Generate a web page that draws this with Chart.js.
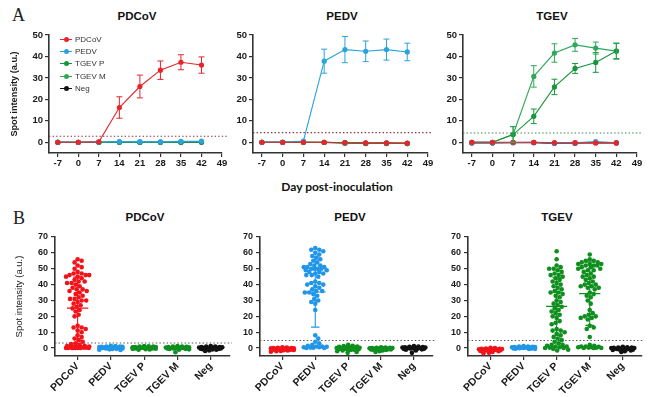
<!DOCTYPE html>
<html>
<head>
<meta charset="utf-8">
<script src="https://cdn.jsdelivr.net/npm/chart.js@4.4.1/dist/chart.umd.min.js"></script>
<style>
  body { margin: 0; width: 650px; height: 397px; background: #fff; overflow: hidden; position: relative;
         font-family: 'Liberation Sans', Arial, sans-serif; }
  canvas { position: absolute; }
  .ttl { position: absolute; font-weight: bold; font-size: 11.5px; line-height: 11.5px; color: #111;
         transform: translate(-50%, -50%); white-space: nowrap; }
  .panel { position: absolute; font-family: 'Liberation Serif', 'DejaVu Serif', serif; font-size: 18px;
           line-height: 18px; color: #222; }
  .xlab { position: absolute; font-family: Lato, 'Liberation Sans', sans-serif; font-weight: bold; font-size: 12px;
          color: #111; transform: translate(-50%, -50%); white-space: nowrap; }
  #legend { position: absolute; left: 60px; top: 33px; font-size: 8px; color: #333; }
  .row { height: 12.3px; display: flex; align-items: center; }
  .mk { position: relative; width: 12px; height: 12px; margin-right: 3px; }
  .mk .ln { position: absolute; left: 0; right: 0; top: 5.5px; height: 1px; }
  .mk .dt { position: absolute; left: 3.5px; top: 3.5px; width: 5px; height: 5px; border-radius: 50%; }
</style>
</head>
<body>
<div class="panel" style="left:12px;top:6px">A</div>
<div class="panel" style="left:13px;top:209px">B</div>

<div class="ttl" style="left:137px;top:17px">PDCoV</div>
<div class="ttl" style="left:342px;top:17px">PEDV</div>
<div class="ttl" style="left:552px;top:17px">TGEV</div>
<div class="ttl" style="left:145px;top:218px">PDCoV</div>
<div class="ttl" style="left:350px;top:218px">PEDV</div>
<div class="ttl" style="left:557px;top:218px">TGEV</div>
<div class="xlab" style="left:337px;top:186px">Day post-inoculation</div>

<canvas id="a1" width="230" height="150" style="left:0;top:25px"></canvas>
<canvas id="a2" width="213" height="150" style="left:223px;top:25px"></canvas>
<canvas id="a3" width="212" height="150" style="left:433px;top:25px"></canvas>
<canvas id="b1" width="238" height="170" style="left:0;top:227px"></canvas>
<canvas id="b2" width="211" height="170" style="left:230px;top:227px"></canvas>
<canvas id="b3" width="212" height="170" style="left:438px;top:227px"></canvas>
<div id="legend"></div>

<script>
// --- data ---
const days = [-7, 0, 7, 14, 21, 28, 35, 42];
const dayTicks = [-7, 0, 7, 14, 21, 28, 35, 42, 49];
const intensityTicksA = [0, 10, 20, 30, 40, 50];
const intensityTicksB = [0, 10, 20, 30, 40, 50, 60, 70];
const seriesNames = ['PDCoV', 'PEDV', 'TGEV P', 'TGEV M', 'Neg'];
const lineColors = ['#e8252b', '#2aa3de', '#17963c', '#2fa85a', '#111111'];
const dotColors = ['#f2131a', '#2196e8', '#0f8f1e', '#0f8f1e', '#111111'];

// A: kinetics (mean, sd) per day
const a1PDCoV = [0, 0, 0.2, 16.2, 26.0, 33.6, 37.3, 36.0];
const a1PDCoVsd = [0, 0, 0, 5.0, 5.3, 4.3, 3.5, 3.8];
const a1PEDV = [0, 0, 0.1, 0.3, 0.3, 0.2, 0.4, 0.5];
const a1TGEVP = [0, 0, 0, 0.1, 0.1, 0, 0.1, 0.2];
const a1TGEVM = [0, 0, 0, 0.1, 0, 0.1, 0.1, 0.1];
const a1Neg = [0, 0, 0, 0, 0, 0, 0, 0];

const a2PDCoV = [0, 0, 0, 0, -0.2, -0.3, -0.3, -0.4];
const a2PEDV = [0, 0, 0.6, 37.8, 43.2, 42.4, 43.2, 42.1];
const a2PEDVsd = [0, 0, 0, 5.6, 6.1, 4.8, 4.9, 4.1];
const a2TGEVP = [0, 0, 0, -0.1, -0.4, -0.6, -0.6, -0.6];
const a2TGEVM = [0, 0, 0, -0.1, -0.3, -0.5, -0.5, -0.6];
const a2Neg = [0, 0, 0, 0, -0.2, -0.4, -0.4, -0.5];

const a3PDCoV = [0, 0, 0, 0, -0.2, -0.2, -0.3, -0.3];
const a3PEDV = [-0.2, -0.2, -0.1, 0, -0.4, -0.3, 0.3, -0.2];
const a3TGEVP = [0, 0, 3.6, 12.1, 25.8, 34.4, 37.2, 42.5];
const a3TGEVPsd = [0, 0, 3.7, 3.4, 3.6, 2.3, 4.6, 3.5];
const a3TGEVM = [0, 0, 3.6, 30.7, 41.6, 45.4, 43.9, 42.5];
const a3TGEVMsd = [0, 0, 3.7, 5.0, 4.3, 3.0, 2.8, 3.8];
const a3Neg = [-0.3, -0.3, -0.2, -0.2, -0.5, -0.4, -0.2, -0.3];

const cutoffsA = [2.8, 4.5, 4.3];
const cutoffsB = [3.2, 4.8, 4.8];

// B: individual samples per antigen
const b1PDCoV = [56, 55, 54, 52, 51, 50, 48, 47, 47, 46, 46, 46, 45, 45, 44, 43, 42, 42, 41, 41, 40, 39, 38, 37, 37,
  36, 36, 35, 34, 33, 32, 31, 31, 30, 30, 29, 28, 27, 26, 25, 24, 23, 21, 20, 14, 13, 13, 12, 11, 10, 8, 7, 6, 5, 4,
  3, 2.5, 2, 1.5, 1.2, 1, 1, 0.8, 0.6, 0.5, 0.4, 0.3, 0.2, 0.1, 0, 0, 0, 0, 0, 0, 0];
const b1PEDV = [1.5, 1.2, 1, 1, 0.8, 0.8, 0.6, 0.5, 0.5, 0.4, 0.3, 0.3, 0.2, 0.2, 0.1, 0, 0, 0, -0.2, -0.3, -0.5, -0.6, -0.8, -1, -1.2];
const b1TGEVP = [1.3, 1.1, 1, 0.9, 0.7, 0.6, 0.5, 0.4, 0.3, 0.2, 0.2, 0.1, 0, 0, 0, -0.1, -0.2, -0.3, -0.4, -0.5, -0.7, -0.9, -1];
const b1TGEVM = [1.2, 1, 0.9, 0.8, 0.6, 0.5, 0.4, 0.3, 0.2, 0.1, 0, 0, 0, -0.1, -0.2, -0.3, -0.5, -0.6, -0.8, -1, -2.6];
const b1Neg = [1.2, 1, 0.9, 0.7, 0.6, 0.5, 0.4, 0.3, 0.2, 0.1, 0, 0, 0, -0.2, -0.3, -0.4, -0.5, -0.7, -0.9, -1.1, -1.5, -1.8];
const b1Means = [25.2, 0.3, 0.1, 0, -0.1];
const b1Sds = [19.5, 0.6, 0.6, 0.8, 0.7];

const b2PDCoV = [0.5, 0.3, 0.2, 0, 0, -0.1, -0.2, -0.3, -0.4, -0.5, -0.5, -0.6, -0.7, -0.8, -0.8, -0.9, -1, -1, -1.2, -1.3, -1.5, -1.8, -2, -2.3];
const b2PEDV = [63, 62, 62, 61, 60, 59, 58, 57, 56, 55, 54, 53, 52, 52, 51, 51, 51, 50, 50, 50, 50, 49, 49, 48, 48, 47,
  47, 46, 46, 45, 42, 41, 41, 40, 40, 39, 38, 37, 36, 36, 35, 35, 34, 33, 31, 30, 29, 28, 24, 8, 6, 4, 3, 2, 1.5, 1, 1,
  0.8, 0.5, 0.5, 0.3, 0.2, 0, 0];
const b2TGEVP = [2, 1.5, 1.2, 1, 0.8, 0.6, 0.5, 0.3, 0.2, 0, 0, -0.1, -0.2, -0.3, -0.4, -0.5, -0.6, -0.8, -1, -1.2, -1.5, -2, -2.5, -3];
const b2TGEVM = [0.5, 0.3, 0.2, 0.1, 0, 0, -0.1, -0.2, -0.3, -0.3, -0.4, -0.5, -0.5, -0.6, -0.7, -0.8, -0.9, -1, -1.2, -1.5, -2, -2.5];
const b2Neg = [1.2, 1, 0.8, 0.6, 0.5, 0.4, 0.3, 0.2, 0.1, 0, 0, -0.1, -0.2, -0.3, -0.5, -0.6, -0.8, -1, -1.5, -3];
const b2Means = [-0.6, 35.3, -0.3, -0.5, -0.2];
const b2Sds = [0.7, 22.1, 1.1, 0.7, 0.9];

const b3PDCoV = [0.2, 0, -0.3, -0.4, -0.5, -0.6, -0.7, -0.8, -0.9, -1, -1, -1.1, -1.2, -1.3, -1.5, -1.8, -2, -2.5, -3, -3.2];
const b3PEDV = [1.2, 1, 0.9, 0.8, 0.7, 0.6, 0.5, 0.4, 0.3, 0.3, 0.2, 0.1, 0, 0, -0.1, -0.2, -0.3, -0.4, -0.5, -0.6];
const b3TGEVP = [61, 56, 52, 51, 50, 50, 49, 48, 47, 46, 46, 45, 44, 43, 42, 41, 40, 39, 38, 37, 36, 35, 35, 34, 33,
  32, 30, 29, 28, 27, 26, 25, 24, 23, 22, 21, 20, 19, 17, 16, 15, 12, 11, 11, 10, 9, 8, 7, 6, 5, 4, 3, 2, 2, 1.5, 1, 1,
  0.5, 0.3, 0, 0, -0.5, -1, -1.5];
const b3TGEVM = [59, 56, 55, 55, 54, 54, 53, 53, 53, 52, 52, 52, 51, 51, 50, 50, 49, 49, 48, 47, 46, 45, 45, 44, 43,
  42, 41, 40, 40, 39, 39, 38, 38, 37, 35, 34, 33, 32, 30, 28, 24, 22, 21, 20, 20, 19, 19, 18, 14, 13, 12, 7, 2, 1.5, 1,
  1, 0.8, 0.5, 0.5, 0.3, 0.2, 0, 0, 0];
const b3Neg = [0.8, 0.5, 0.4, 0.3, 0.2, 0, 0, -0.2, -0.3, -0.4, -0.5, -0.6, -0.7, -0.8, -1, -1.2, -1.5, -2, -2.5];
const b3Means = [-1.1, 0.3, 26.3, 34.3, -0.5];
const b3Sds = [0.9, 0.5, 18.3, 20.0, 0.8];

Chart.defaults.font.family = "'Liberation Sans', Arial, sans-serif";
Chart.defaults.color = '#222';

// dotted detection threshold
const cutoffLine = {
  id: 'cutoffLine',
  beforeDatasetsDraw(chart) {
    const o = chart.options.plugins.cutoffLine;
    const y = chart.scales.y.getPixelForValue(o.value);
    const ctx = chart.ctx;
    ctx.save();
    ctx.strokeStyle = o.color;
    ctx.lineWidth = 1.1;
    ctx.setLineDash([1.4, 2.2]);
    ctx.beginPath();
    ctx.moveTo(chart.chartArea.left, y);
    ctx.lineTo(chart.chartArea.right + o.extra, y);
    ctx.stroke();
    ctx.restore();
  }
};

// vertical sd bars for the kinetics
const errorBars = {
  id: 'errorBars',
  afterDatasetsDraw(chart) {
    const ctx = chart.ctx, ys = chart.scales.y;
    chart.data.datasets.forEach((ds, di) => {
      if (!ds.errors) return;
      const meta = chart.getDatasetMeta(di);
      ctx.save();
      ctx.strokeStyle = ds.borderColor;
      ctx.lineWidth = 1;
      meta.data.forEach((pt, i) => {
        const e = ds.errors[i];
        if (!e) return;
        const v = ds.data[i].y;
        const t = ys.getPixelForValue(v + e), b = ys.getPixelForValue(v - e);
        ctx.beginPath();
        ctx.moveTo(pt.x, t); ctx.lineTo(pt.x, b);
        ctx.moveTo(pt.x - 3, t); ctx.lineTo(pt.x + 3, t);
        ctx.moveTo(pt.x - 3, b); ctx.lineTo(pt.x + 3, b);
        ctx.stroke();
      });
      ctx.restore();
    });
  }
};

// mean with sd for the dot plots
const meanSd = {
  id: 'meanSd',
  afterDatasetsDraw(chart) {
    const ctx = chart.ctx, xs = chart.scales.x, ys = chart.scales.y;
    chart.data.datasets.forEach(ds => {
      const g = ds.group;
      const m = ys.getPixelForValue(ds.mean);
      const t = ys.getPixelForValue(ds.mean + ds.sd), b = ys.getPixelForValue(ds.mean - ds.sd);
      const cx = xs.getPixelForValue(g);
      const hw = xs.getPixelForValue(g + 0.32) - cx, cw = xs.getPixelForValue(g + 0.13) - cx;
      ctx.save();
      ctx.strokeStyle = ds.backgroundColor;
      ctx.lineWidth = 1.1;
      ctx.beginPath();
      ctx.moveTo(cx - hw, m); ctx.lineTo(cx + hw, m);
      ctx.moveTo(cx, t); ctx.lineTo(cx, b);
      ctx.moveTo(cx - cw, t); ctx.lineTo(cx + cw, t);
      ctx.moveTo(cx - cw, b); ctx.lineTo(cx + cw, b);
      ctx.stroke();
      ctx.restore();
    });
  }
};

function axisStyle(size, weight) {
  return {
    grid: { drawOnChartArea: false, tickLength: 4, color: '#333', lineWidth: 1.2 },
    border: { color: '#333', width: 1.6 },
    ticks: { font: { size: size, weight: weight }, color: '#1a1a1a', autoSkip: false }
  };
}

function lineChart(id, series, cutoff, cutColor, yWidth, withTitle) {
  const xa = axisStyle(9.5, 'bold'), ya = axisStyle(9.5, 'bold');
  new Chart(document.getElementById(id), {
    type: 'scatter',
    data: {
      datasets: series.map(s => ({
        label: seriesNames[s.k],
        data: days.map((d, i) => ({ x: d, y: s.v[i] })),
        errors: s.e,
        showLine: true,
        borderColor: lineColors[s.k],
        backgroundColor: lineColors[s.k],
        pointBackgroundColor: lineColors[s.k],
        pointRadius: 2.6,
        pointBorderWidth: 0,
        borderWidth: 1.1
      }))
    },
    options: {
      responsive: false, animation: false, devicePixelRatio: 1,
      layout: { padding: { top: 10, right: 8, left: 0, bottom: 0 } },
      plugins: { legend: { display: false }, tooltip: { enabled: false },
                 cutoffLine: { value: cutoff, color: cutColor, extra: 5 } },
      scales: {
        x: Object.assign(xa, {
          type: 'linear', min: -10, max: 49,
          afterBuildTicks: s => { s.ticks = dayTicks.map(v => ({ value: v })); },
          afterFit: s => { s.height = 22; },
          ticks: Object.assign(xa.ticks, { padding: 1, maxRotation: 0 })
        }),
        y: Object.assign(ya, {
          min: -5, max: 50,
          afterBuildTicks: s => { s.ticks = intensityTicksA.map(v => ({ value: v })); },
          afterFit: s => { s.width = yWidth; },
          ticks: Object.assign(ya.ticks, { padding: 2 }),
          title: { display: withTitle, text: 'Spot intensity (a.u.)', color: '#1a1a1a',
                   font: { size: 9.2, weight: 'bold' }, padding: { top: 8.5, bottom: 0 } }
        })
      }
    },
    plugins: [cutoffLine, errorBars]
  });
}

// spread the dots of one column sideways so they do not sit on top of each other
const PX_Y = 1.586, PX_X = 33, DIAM = 4.3, HALF = 11.5;
function swarm(values, g) {
  const placed = [];
  const order = values.map((v, i) => i).sort((a, b) => values[b] - values[a]);
  return order.map(i => {
    const py = values[i] * PX_Y;
    let pick = 0, bestGap = -1;
    for (let s = 0; s <= HALF; s += 0.5) {
      let found = false;
      for (const dx of (s === 0 ? [0] : [s, -s])) {
        let gap = Infinity;
        placed.forEach(p => { gap = Math.min(gap, Math.hypot(p.x - dx, p.y - py)); });
        if (gap >= DIAM) { pick = dx; found = true; break; }
        if (gap > bestGap) { bestGap = gap; pick = dx; }
      }
      if (found) break;
    }
    placed.push({ x: pick, y: py });
    return { x: g + pick / PX_X, y: values[i] };
  });
}

function dotChart(id, groups, means, sds, cutoff, yWidth, withTitle) {
  const xa = axisStyle(10.5, 'bold'), ya = axisStyle(9, 'bold');
  new Chart(document.getElementById(id), {
    type: 'scatter',
    data: {
      datasets: groups.map((vals, g) => ({
        label: seriesNames[g],
        data: swarm(vals, g),
        group: g, mean: means[g], sd: sds[g],
        backgroundColor: dotColors[g],
        pointRadius: 2.3,
        borderWidth: 0
      }))
    },
    options: {
      responsive: false, animation: false, devicePixelRatio: 1,
      layout: { padding: { top: 10, right: 8, left: 0, bottom: 0 } },
      plugins: { legend: { display: false }, tooltip: { enabled: false },
                 cutoffLine: { value: cutoff, color: '#555', extra: 2 } },
      scales: {
        x: Object.assign(xa, {
          type: 'linear', min: -0.68, max: 4.58,
          afterBuildTicks: s => { s.ticks = seriesNames.map((n, i) => ({ value: i })); },
          afterFit: s => { s.height = 41; },
          ticks: Object.assign(xa.ticks, { padding: 0, minRotation: 45, maxRotation: 45,
                                          callback: v => seriesNames[v] })
        }),
        y: Object.assign(ya, {
          min: -5, max: 70,
          afterBuildTicks: s => { s.ticks = intensityTicksB.map(v => ({ value: v })); },
          afterFit: s => { s.width = yWidth; },
          ticks: Object.assign(ya.ticks, { padding: 3 }),
          title: { display: withTitle, text: 'Spot intensity (a.u.)', color: '#1a1a1a',
                   font: { size: 9.5 }, padding: { top: 14, bottom: 0 } }
        })
      }
    },
    plugins: [cutoffLine, meanSd]
  });
}

lineChart('a1', [
  { k: 0, v: a1PDCoV, e: a1PDCoVsd }, { k: 1, v: a1PEDV }, { k: 2, v: a1TGEVP },
  { k: 3, v: a1TGEVM }, { k: 4, v: a1Neg }
], cutoffsA[0], '#8c3434', 49, true);
lineChart('a2', [
  { k: 0, v: a2PDCoV }, { k: 1, v: a2PEDV, e: a2PEDVsd }, { k: 2, v: a2TGEVP },
  { k: 3, v: a2TGEVM }, { k: 4, v: a2Neg }
], cutoffsA[1], '#8c3434', 30, false);
lineChart('a3', [
  { k: 0, v: a3PDCoV }, { k: 1, v: a3PEDV }, { k: 2, v: a3TGEVP, e: a3TGEVPsd },
  { k: 3, v: a3TGEVM, e: a3TGEVMsd }, { k: 4, v: a3Neg }
], cutoffsA[2], '#3b7f45', 30, false);

dotChart('b1', [b1PDCoV, b1PEDV, b1TGEVP, b1TGEVM, b1Neg], b1Means, b1Sds, cutoffsB[0], 55, true);
dotChart('b2', [b2PDCoV, b2PEDV, b2TGEVP, b2TGEVM, b2Neg], b2Means, b2Sds, cutoffsB[1], 30, false);
dotChart('b3', [b3PDCoV, b3PEDV, b3TGEVP, b3TGEVM, b3Neg], b3Means, b3Sds, cutoffsB[2], 30, false);

// legend of panel A
const legend = document.getElementById('legend');
seriesNames.forEach((name, i) => {
  const row = document.createElement('div');
  row.className = 'row';
  row.innerHTML = `<span class="mk"><span class="ln" style="background:${lineColors[i]}"></span>` +
    `<span class="dt" style="background:${lineColors[i]}"></span></span><span>${name}</span>`;
  legend.appendChild(row);
});
</script>
</body>
</html>
